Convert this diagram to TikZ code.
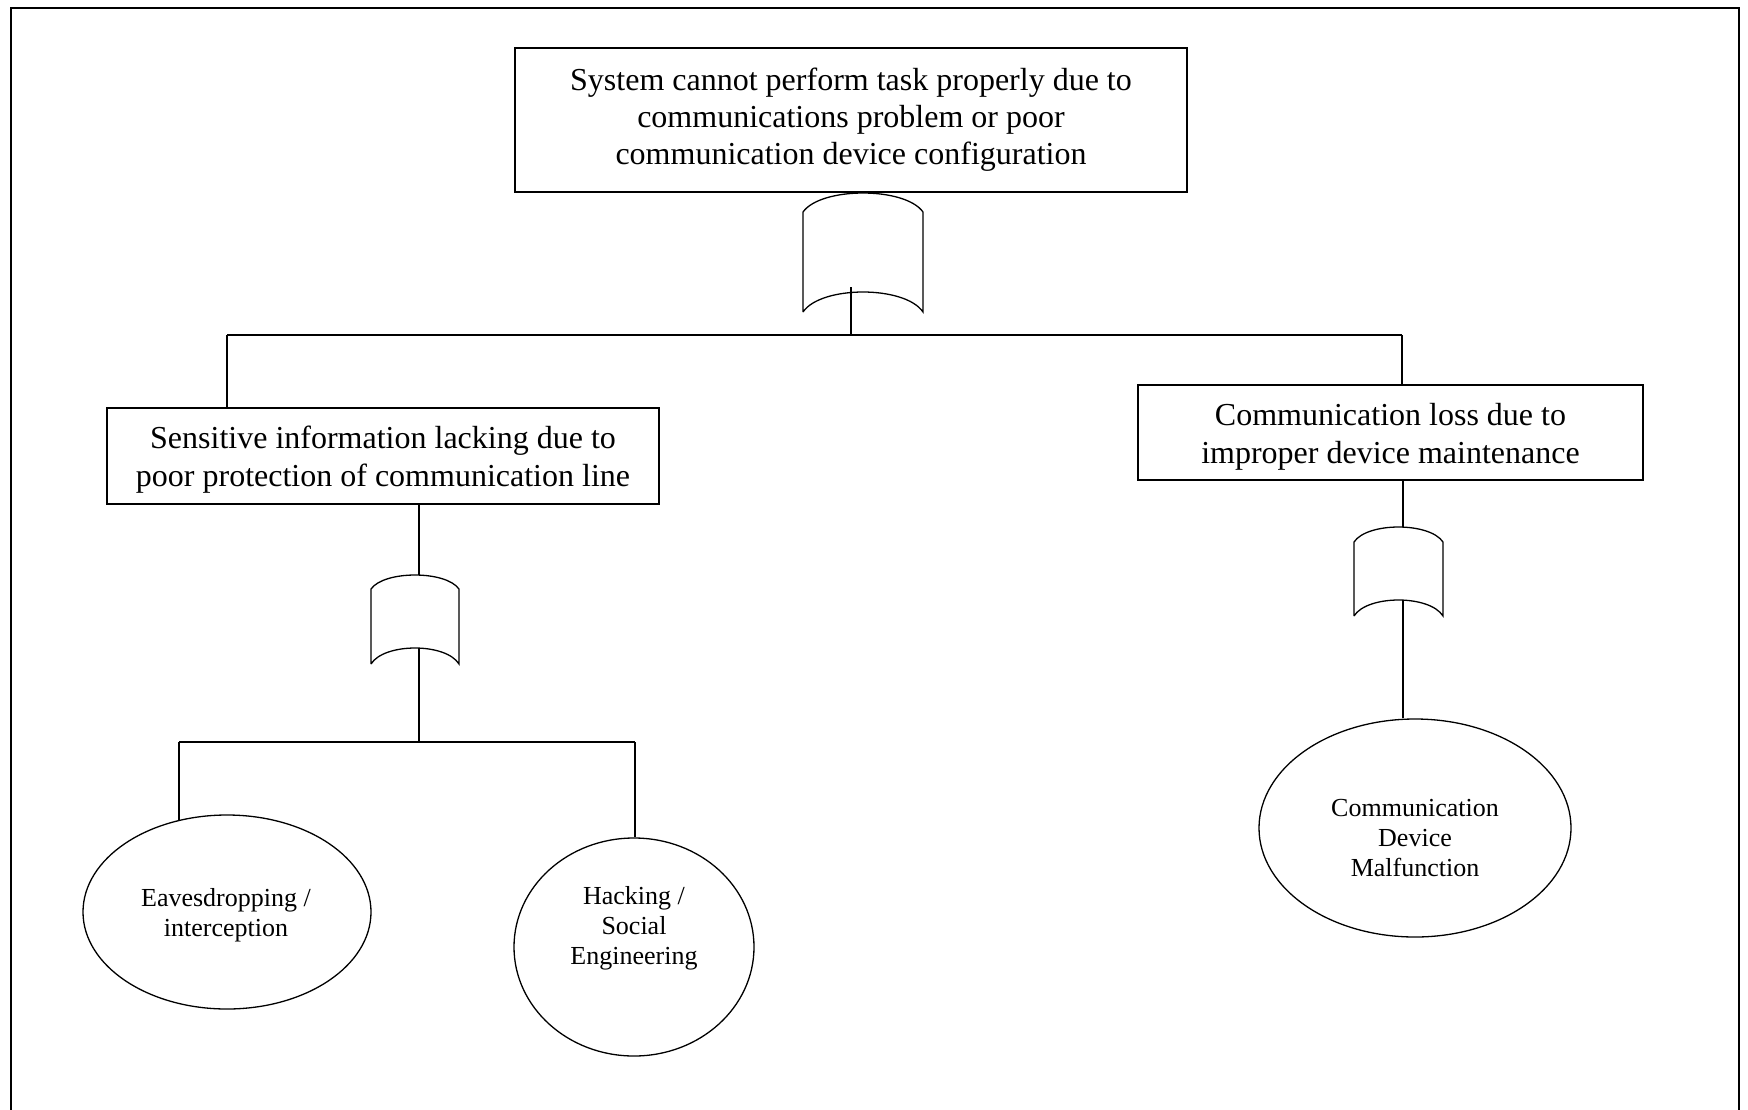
\documentclass[tikz,border=0pt]{standalone}
\usepackage{fontspec}
\setmainfont{Liberation Serif}
\usetikzlibrary{calc,shapes.geometric}

\tikzset{
  conn/.style={line width=1.3pt},
  box/.style={draw, line width=1.3pt, rectangle, inner sep=0pt, align=center,
    font=\fontsize{32}{37}\selectfont},
  boxtext/.style={align=center, inner sep=0pt, font=\fontsize{32}{38}\selectfont},
  event/.style={draw, line width=1.3pt, ellipse, inner sep=0pt},
  evtext/.style={align=center, inner sep=0pt, font=\fontsize{26}{30}\selectfont},
  gatebox/.style={rectangle, inner sep=0pt, outer sep=0pt},
  frame/.style={line width=2pt}
}

% OR gate: name, centre x, centre y, width, height, top bulge, bottom rise
\newcommand\gateshape[7]{%
  \node[gatebox, minimum width=#4pt, minimum height=#5pt] (#1) at (#2,#3) {};
  \draw[conn] (#1.south west) -- ($(#1.north west)+(0,#6)$)
    .. controls ($(#1.north west)+(0.15*#4,-#6/3)$) and ($(#1.north east)+(-0.15*#4,-#6/3)$) .. ($(#1.north east)+(0,#6)$)
    -- (#1.south east)
    .. controls ($(#1.south east)+(-0.15*#4,-4*#7/3)$) and ($(#1.south west)+(0.15*#4,-4*#7/3)$) .. (#1.south west);
}

\begin{document}
\begin{tikzpicture}[x=1pt,y=-1pt]
\useasboundingbox (0,0) rectangle (1748,1109);
\draw[frame] (11,1115) -- (11,8) -- (1739,8) -- (1739,1115);

% events
\node[box, minimum width=672pt, minimum height=144pt] (top) at (851,120)
  {System cannot perform task properly due to\\communications problem or poor\\communication device configuration};
\node[box, minimum width=552pt, minimum height=96pt] (b1) at (383,456) {};
\node[boxtext] (b1t) at (383,460)
  {Sensitive information lacking due to\\poor protection of communication line};
\node[box, minimum width=505pt, minimum height=95pt] (b2) at (1390.5,432.5) {};
\node[boxtext] (b2t) at (1390.5,436.5)
  {Communication loss due to\\improper device maintenance};

% gates
\gateshape{g0}{863}{252.5}{120}{119}{19}{20}
\gateshape{g1}{415}{619.5}{88}{89}{14}{16}
\gateshape{g2}{1398.5}{571.5}{89}{89}{15}{16}

% basic events
\node[event, minimum width=288pt, minimum height=194pt] (e1) at (227,912) {};
\node[evtext] (e1t) at (226,915) {Eavesdropping /\\interception};
\node[event, minimum width=240pt, minimum height=218pt] (e2) at (634,947) {};
\node[evtext] (e2t) at (634,928) {Hacking /\\Social\\Engineering};
\node[event, minimum width=312pt, minimum height=218pt] (e3) at (1415,828) {};
\node[evtext] (e3t) at (1415,838) {Communication\\Device\\Malfunction};

% junction points
\coordinate (s0) at (851,287);
\coordinate (k1) at (227,335);
\coordinate (k2) at (1402,335);
\coordinate (c1) at (419,648);
\coordinate (m1) at (179,742);
\coordinate (m2) at (635,742);
\coordinate (c2) at (1403,600);

% top level
\draw[conn] (s0) -- (s0 |- k1);
\draw[conn] (k1) -- (k2);
\draw[conn] (k1) -- (k1 |- b1.north);
\draw[conn] (k2) -- (k2 |- b2.north);

% left branch
\draw[conn] (c1 |- b1.south) -- (c1 |- g1.north);
\draw[conn] (c1) -- (c1 |- m1);
\draw[conn] (m1) -- (m2);
\draw[conn] (m1) -- (m1 |- e1.117.7);
\draw[conn] (m2) -- (m2 |- e2.north);

% right branch
\draw[conn] (c2 |- b2.south) -- (c2 |- g2.north);
\draw[conn] (c2) -- (c2 |- e3.north);
\end{tikzpicture}
\end{document}
